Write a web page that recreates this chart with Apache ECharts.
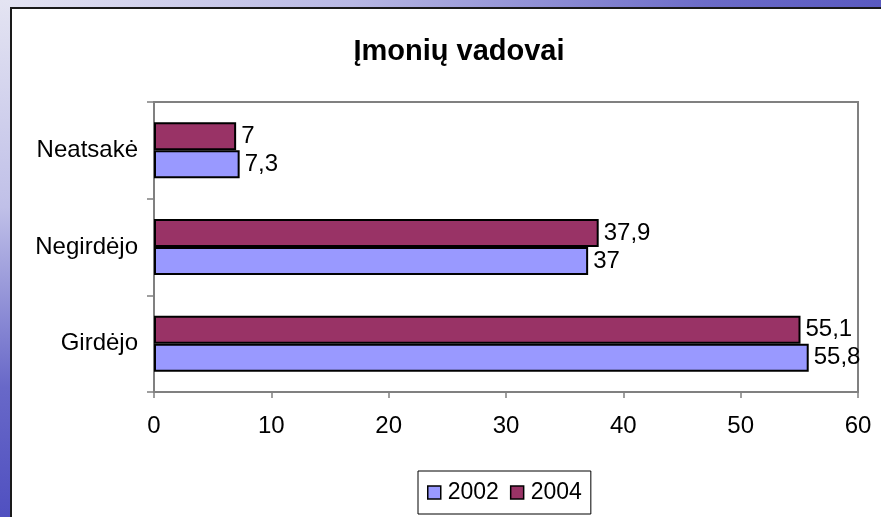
<!DOCTYPE html>
<html>
<head>
<meta charset="utf-8">
<script src="https://cdn.jsdelivr.net/npm/echarts@6/dist/echarts.min.js"></script>
<style>
  html, body { margin: 0; padding: 0; width: 881px; height: 517px; overflow: hidden; }
  #topband { position: absolute; left: 0; top: 0; width: 881px; height: 8px;
    background: linear-gradient(to right, #e4e4f2 0%, #b8b8e4 40%, #6c6cc8 80%, #5a5ac0 100%); }
  #leftband { position: absolute; left: 0; top: 0; width: 10px; height: 517px;
    background: linear-gradient(to bottom, #e4e4f2 0%, #c0c0e8 40%, #6868c8 75%, #5050c0 100%); }
  #panel { position: absolute; left: 10px; top: 7px; width: 871px; height: 510px;
    background: #fff; border-left: 2px solid #1a1a1a; border-top: 2px solid #1a1a1a; box-sizing: border-box; }
  #chart { position: absolute; left: 0; top: 0; width: 881px; height: 517px; }
</style>
</head>
<body>
<div id="topband"></div>
<div id="leftband"></div>
<div id="panel"></div>
<div id="chart"></div>
<script>
const categories = ['Girdėjo', 'Negirdėjo', 'Neatsakė'];
const years = ['2002', '2004'];
const values2002 = [55.8, 37, 7.3];
const values2004 = [55.1, 37.9, 7];
const xTicks = [0, 10, 20, 30, 40, 50, 60];

const chart = echarts.init(document.getElementById('chart'));
const font = '"Liberation Sans", Arial, sans-serif';

function barSeries(name, data, color) {
  return {
    name: name,
    type: 'bar',
    data: data,
    barWidth: 28,
    barGap: '0%',
    itemStyle: { color: color, borderColor: '#000', borderWidth: 2 },
    label: {
      show: true,
      position: 'right',
      distance: 5,
      color: '#000',
      fontFamily: font,
      fontSize: 24,
      formatter: p => String(p.value).replace('.', ',')
    }
  };
}

const option = {
  backgroundColor: 'transparent',
  animation: false,
  title: {
    text: 'Įmonių vadovai',
    left: 454,
    textAlign: 'center',
    top: 32,
    textStyle: { fontFamily: font, fontSize: 29, fontWeight: 'bold', color: '#000' }
  },
  legend: {
    data: years,
    left: 418,
    top: 471,
    padding: [10, 9],
    itemGap: 11,
    itemWidth: 13,
    itemHeight: 13,
    itemStyle: { borderColor: '#000', borderWidth: 1.5 },
    icon: 'rect',
    borderColor: '#000',
    borderWidth: 1,
    textStyle: { fontFamily: font, fontSize: 23, color: '#000', padding: [0, 0, 0, 2] }
  },
  grid: {
    left: 154, right: 23, top: 102, bottom: 125,
    show: true, borderColor: '#808080', borderWidth: 2, backgroundColor: 'transparent'
  },
  xAxis: {
    type: 'value',
    min: xTicks[0],
    max: xTicks[xTicks.length - 1],
    interval: 10,
    axisLine: { show: true, lineStyle: { color: '#808080', width: 1.5 } },
    axisTick: { show: true, length: 6, lineStyle: { color: '#808080', width: 1.5 } },
    splitLine: { show: false },
    axisLabel: { margin: 22, fontFamily: font, fontSize: 24, color: '#000' }
  },
  yAxis: {
    type: 'category',
    data: categories,
    axisLine: { show: true, lineStyle: { color: '#808080', width: 1.5 } },
    axisTick: { show: true, length: 7, lineStyle: { color: '#808080', width: 1.5 } },
    axisLabel: { margin: 16, fontFamily: font, fontSize: 24, color: '#000' }
  },
  // 2004 listed first so it sits above 2002 in each band
  series: [
    barSeries(years[1], values2004, '#993366'),
    barSeries(years[0], values2002, '#9999ff')
  ]
};

chart.setOption(option);
</script>
</body>
</html>
